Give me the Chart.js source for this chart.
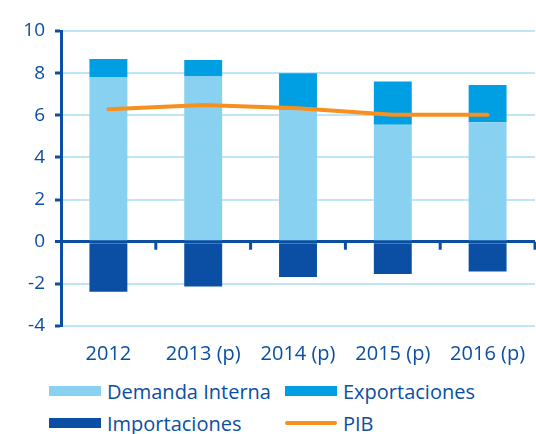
<!DOCTYPE html>
<html lang="es">
<head>
<meta charset="UTF-8">
<title>PIB</title>
<style>
  body { margin: 0; padding: 0; background: #fff; font-family: 'Open Sans', sans-serif; }
  #wrap { position: relative; width: 536px; height: 434px; }
  #chart { position: absolute; left: 0; top: 0; }
  .legend { position: absolute; left: 49px; top: 380px; width: 487px; }
  .legend div { position: absolute; white-space: nowrap; font-size: 20px; color: #0a4fa3; line-height: 24px; }
  .legend span.box { display: inline-block; width: 52px; height: 10px; margin-right: 6px; vertical-align: 3px; }
  .legend span.line { display: inline-block; width: 52px; height: 4px; margin-right: 6px; vertical-align: 6px; border-radius: 2px; }
</style>
<script src="https://cdn.jsdelivr.net/npm/chart.js"></script>
</head>
<body>
<div id="wrap">
  <canvas id="chart" width="536" height="370"></canvas>
  <div class="legend" id="legend"></div>
</div>
<script>
  // data
  const years = ['2012', '2013 (p)', '2014 (p)', '2015 (p)', '2016 (p)'];
  const demandaInterna = [7.82, 7.84, 6.26, 5.55, 5.67];
  const exportaciones = [0.85, 0.78, 1.74, 2.05, 1.77];
  const importaciones = [-2.37, -2.12, -1.67, -1.53, -1.41];
  const pib = [6.29, 6.49, 6.33, 6.02, 6.02];
  const yTicks = [-4, -2, 0, 2, 4, 6, 8, 10];

  const darkBlue = '#0a4fa3';
  const lightBlue = '#89d1f1';
  const midBlue = '#009fe3';
  const orange = '#f7901e';
  const gridBlue = '#bfe6f8';

  // small ticks on the zero line, between categories
  const zeroTicks = {
    id: 'zeroTicks',
    afterDatasetsDraw(chart) {
      const x = chart.scales.x, y = chart.scales.y;
      const ctx = chart.ctx;
      const y0 = y.getPixelForValue(0);
      ctx.save();
      ctx.strokeStyle = darkBlue;
      ctx.lineWidth = 3;
      for (let i = 1; i <= years.length; i++) {
        const px = (x.getPixelForValue(i - 1) + x.getPixelForValue(i)) / 2;
        ctx.beginPath();
        ctx.moveTo(px, y0);
        ctx.lineTo(px, y0 + 8);
        ctx.stroke();
      }
      ctx.restore();
    }
  };

  const chart = new Chart(document.getElementById('chart'), {
    data: {
      labels: years,
      datasets: [
        { type: 'line', label: 'PIB', data: pib, borderColor: orange, borderWidth: 4,
          pointRadius: 0, tension: 0, order: 0, borderCapStyle: 'round' },
        { type: 'bar', label: 'Demanda Interna', data: demandaInterna, backgroundColor: lightBlue, stack: 's', order: 1 },
        { type: 'bar', label: 'Exportaciones', data: exportaciones, backgroundColor: midBlue, stack: 's', order: 1 },
        { type: 'bar', label: 'Importaciones', data: importaciones, backgroundColor: darkBlue, stack: 's', order: 1 }
      ]
    },
    options: {
      responsive: false,
      animation: false,
      layout: { padding: { top: 31, right: 1, left: 0, bottom: 0 } },
      datasets: { bar: { barPercentage: 0.4, categoryPercentage: 1 } },
      plugins: { legend: { display: false }, tooltip: { enabled: false } },
      scales: {
        x: {
          stacked: true,
          grid: { display: false },
          border: { display: false },
          ticks: { color: darkBlue, font: { family: 'Open Sans', size: 20 }, padding: 8, maxRotation: 0 },
          afterFit(s) { s.height = 44; }
        },
        y: {
          stacked: true,
          min: -4, max: 10,
          afterBuildTicks(s) { s.ticks = yTicks.map(v => ({ value: v })); },
          grid: {
            color: c => c.tick && c.tick.value === 0 ? darkBlue : gridBlue,
            lineWidth: c => c.tick && c.tick.value === 0 ? 3 : 2,
            tickColor: darkBlue,
            tickWidth: 3,
            tickLength: 6
          },
          border: { display: true, color: darkBlue, width: 3 },
          ticks: { color: darkBlue, font: { family: 'Open Sans', size: 19 }, padding: 10 },
          afterFit(s) { s.width = 61; }
        }
      }
    },
    plugins: [zeroTicks]
  });

  // legend in two columns
  const items = [
    { label: 'Demanda Interna', color: lightBlue, kind: 'box', left: 0, top: 0 },
    { label: 'Exportaciones', color: midBlue, kind: 'box', left: 236, top: 0 },
    { label: 'Importaciones', color: darkBlue, kind: 'box', left: 0, top: 32 },
    { label: 'PIB', color: orange, kind: 'line', left: 236, top: 32 }
  ];
  const legend = document.getElementById('legend');
  items.forEach(it => {
    const d = document.createElement('div');
    d.style.left = it.left + 'px';
    d.style.top = it.top + 'px';
    const sw = document.createElement('span');
    sw.className = it.kind;
    sw.style.background = it.color;
    d.appendChild(sw);
    d.appendChild(document.createTextNode(it.label));
    legend.appendChild(d);
  });
</script>
</body>
</html>
